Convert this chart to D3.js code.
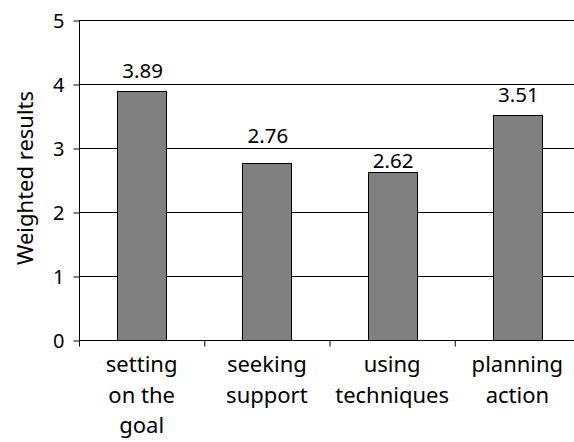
<!DOCTYPE html>
<html><head><meta charset="utf-8">
<script src="https://cdn.jsdelivr.net/npm/d3@7"></script>
<style>body{margin:0;background:#fff}svg{display:block}text{font-family:"Noto Sans","Open Sans",sans-serif;fill:#000}</style>
</head><body><svg id="c" width="574" height="442"></svg>
<script>
const categories = [["setting","on the","goal"],["seeking","support"],["using","techniques"],["planning","action"]];
const values = [3.89, 2.76, 2.62, 3.51];
const yTicks = [0,1,2,3,4,5];
const yTitle = "Weighted results";

const svg = d3.select("#c");
const x = d3.scaleBand().domain(d3.range(categories.length)).range([79, 580]).padding(0);
const y = d3.scaleLinear().domain([0,5]).range([340, 20]);
const barW = x.bandwidth()*0.39;
const labelGap = [13, 20, 4, 13];

// gridlines
svg.append("g").selectAll("line").data(yTicks.filter(d=>d>0)).join("line")
  .attr("x1",79).attr("x2",580).attr("y1",d=>Math.round(y(d))+0.5).attr("y2",d=>Math.round(y(d))+0.5)
  .attr("stroke","#000").attr("stroke-width",1);

// bars
svg.append("g").selectAll("rect").data(values).join("rect")
  .attr("x",(d,i)=>Math.round(x(i)+x.bandwidth()/2-barW/2)+0.5)
  .attr("y",d=>Math.round(y(d))+0.5)
  .attr("width",Math.round(barW))
  .attr("height",d=>y(0)-Math.round(y(d)))
  .attr("fill","#808080").attr("stroke","#000").attr("stroke-width",1);

// value labels
svg.append("g").selectAll("text").data(values).join("text")
  .attr("x",(d,i)=>x(i)+x.bandwidth()/2+1).attr("y",(d,i)=>y(d)-labelGap[i])
  .attr("text-anchor","middle").style("font-size","20.5px").text(d=>d.toFixed(2));

// y axis
const yAxis = d3.axisLeft(y).tickValues(yTicks).tickSize(6).tickPadding(9).tickFormat(d3.format("d"));
const gy = svg.append("g").attr("transform","translate(79.5,0.5)").call(yAxis);
gy.selectAll("text").style("font-size","20px").attr("dy","0.35em");
gy.selectAll("line,path").attr("stroke","#000");
gy.select(".domain").attr("d","M0,"+y(5)+"V"+y(0));

// x axis
const xAxis = d3.axisBottom(x).tickSize(0).tickFormat("");
const gx = svg.append("g").attr("transform","translate(0,340.5)").call(xAxis);
gx.select(".domain").attr("d","M79,0H580").attr("stroke","#000");
gx.selectAll(".tick").remove();
gx.selectAll("line.sep").data(d3.range(categories.length+1)).join("line").attr("class","sep")
  .attr("x1",i=>(i<categories.length?x(i):580)+0.5).attr("x2",i=>(i<categories.length?x(i):580)+0.5)
  .attr("y1",0).attr("y2",6).attr("stroke","#000");

// category labels
const cl = svg.append("g").selectAll("text").data(categories).join("text")
  .attr("text-anchor","middle").style("font-size","22px")
  .attr("transform",(d,i)=>`translate(${x(i)+x.bandwidth()/2},372)`);
cl.selectAll("tspan").data(d=>d).join("tspan").attr("x",0).attr("y",(d,j)=>j*30.5).text(d=>d);

// y title
svg.append("text").attr("transform","translate(33,178) rotate(-90)")
  .attr("text-anchor","middle").style("font-size","22px").text(yTitle);
</script></body></html>
